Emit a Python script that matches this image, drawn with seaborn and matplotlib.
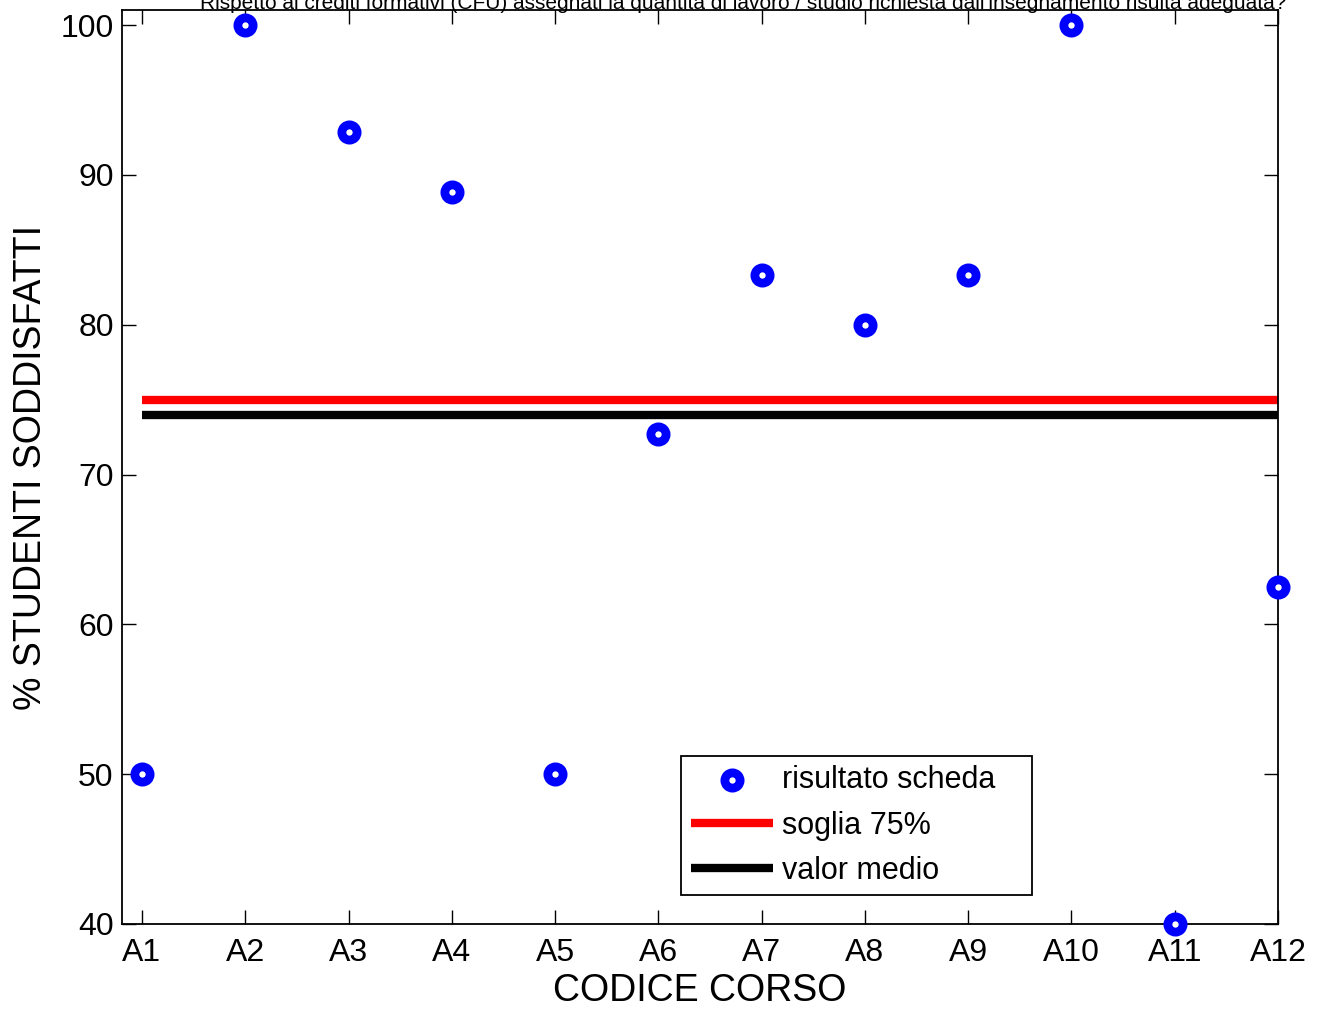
import numpy as np
import pandas as pd
import matplotlib
matplotlib.use("Agg")
import matplotlib.pyplot as plt
import seaborn as sns

corsi = ["A1", "A2", "A3", "A4", "A5", "A6", "A7", "A8", "A9", "A10", "A11", "A12"]
soddisfatti = [50, 100, 92.86, 88.89, 50, 72.73, 83.33, 80, 83.33, 100, 40, 62.5]
soglia = 75
valor_medio = 74

sns.set_style("ticks")
plt.rcParams["font.family"] = ["Liberation Sans", "DejaVu Sans"]
plt.rcParams.update({"text.color": "black", "axes.labelcolor": "black",
                     "xtick.color": "black", "ytick.color": "black",
                     "axes.edgecolor": "black", "lines.solid_capstyle": "butt"})

df = pd.DataFrame({"x": np.arange(1, len(corsi) + 1), "y": soddisfatti})

fig = plt.figure(figsize=(13.3, 10.09), dpi=100)
ax = fig.add_axes([0.0917, 0.0843, 0.8692, 0.9057])

xs = [df["x"].min(), df["x"].max()]
sns.lineplot(x=xs, y=[soglia, soglia], color="red", linewidth=6, ax=ax, label="soglia 75%")
sns.lineplot(x=xs, y=[valor_medio, valor_medio], color="black", linewidth=6, ax=ax, label="valor medio")
sns.scatterplot(data=df, x="x", y="y", s=121, facecolor="white", edgecolor="blue",
                linewidth=6.3, ax=ax, label="risultato scheda", zorder=5, clip_on=False)

ax.set_xlim(0.806, 12)
ax.set_ylim(40, 101)
ax.set_xticks(df["x"])
ax.set_xticklabels(corsi)
ax.set_yticks([40, 50, 60, 70, 80, 90, 100])
ax.tick_params(direction="in", length=10, width=1, labelsize=23, top=True, right=True, pad=6)
ax.tick_params(axis="x", pad=10)
for s in ax.spines.values():
    s.set_linewidth(1.3)
    s.set_visible(True)

ax.set_xlabel("CODICE CORSO", fontsize=27, labelpad=4)
ax.set_ylabel("% STUDENTI SODDISFATTI", fontsize=27, labelpad=8)
ax.set_title("Rispetto ai crediti formativi (CFU) assegnati la quantità di lavoro / studio "
             "richiesta dall'insegnamento risulta adeguata?", fontsize=15, pad=1, x=0.537)

h, l = ax.get_legend_handles_labels()
order = [l.index("risultato scheda"), l.index("soglia 75%"), l.index("valor medio")]
leg = ax.legend([h[i] for i in order], [l[i] for i in order],
                loc="lower left", bbox_to_anchor=(0.484, 0.0317, 0.303, 0.155),
                mode="expand", fontsize=22, fancybox=False, edgecolor="black",
                framealpha=1, handlelength=2.7, borderaxespad=0, labelspacing=0.5,
                handletextpad=0.3, borderpad=0.3)
leg.get_frame().set_linewidth(1.3)

fig.savefig("out.png", dpi=100)
